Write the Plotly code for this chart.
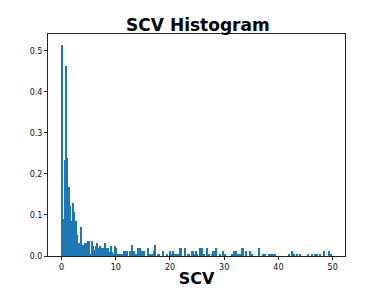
import numpy as np
import plotly.graph_objects as go

bin_start = 0.0
bin_width = 0.249

head = [0.515, 0.09, 0.234, 0.463, 0.24, 0.169, 0.123, 0.085, 0.13, 0.108,
        0.085, 0.051, 0.031, 0.031, 0.07, 0.027, 0.027, 0.031, 0.031, 0.037,
        0.037, 0.006, 0.037, 0.024, 0.015, 0.024, 0.032, 0.019, 0.024, 0.019,
        0.019, 0.019, 0.031, 0.019, 0.019, 0.01, 0.024, 0.01, 0.006, 0.024]
tail_a = [0.019, 0.006, 0.006, 0.006, 0.006, 0.006, 0.013, 0.013, 0.013, 0,
          0.013, 0.006, 0.027, 0.013, 0, 0.006, 0.019, 0.006, 0.019, 0.013,
          0.013, 0.013, 0, 0, 0.019, 0.006, 0.006, 0.006, 0.013, 0.027,
          0, 0.006, 0.006, 0, 0, 0.013, 0, 0, 0.006, 0]
tail_b = [0.013, 0.006, 0.013, 0, 0.006, 0.006, 0.006, 0.019, 0.019, 0,
          0, 0.019, 0, 0.006, 0.006, 0, 0.013, 0.013, 0.006, 0.013,
          0.006, 0, 0.019, 0.006, 0.019, 0.006, 0, 0.019, 0, 0.006,
          0, 0.006, 0.013, 0.013, 0.019, 0, 0, 0.006, 0, 0.013]
tail_c = [0.006, 0.006, 0, 0, 0, 0, 0.006, 0.013, 0, 0.013,
          0.006, 0, 0.006, 0.019, 0.019, 0, 0.013, 0, 0, 0.013,
          0, 0.006, 0, 0, 0, 0, 0.019, 0, 0, 0.006,
          0.006, 0, 0, 0.006, 0.006, 0.006, 0.006, 0, 0.006, 0]
tail_d = [0, 0, 0, 0, 0, 0, 0, 0, 0.006, 0,
          0.013, 0, 0.006, 0, 0.006, 0, 0.006, 0, 0, 0,
          0, 0, 0.006, 0, 0, 0.006, 0, 0.006, 0, 0.006,
          0, 0.006, 0, 0, 0.013, 0, 0, 0, 0.013, 0.006]

density = head + tail_a + tail_b + tail_c + tail_d
n = len(density)
edges = bin_start + bin_width * np.arange(n + 1)
centers = (edges[:-1] + edges[1:]) / 2

x_ticks = [0, 10, 20, 30, 40, 50]
y_ticks = [0.0, 0.1, 0.2, 0.3, 0.4, 0.5]

fig = go.Figure(go.Bar(
    x=centers, y=density, width=bin_width,
    marker=dict(color="#1f77b4", line=dict(width=0)),
))

axis_common = dict(
    showline=True, linecolor="#222", linewidth=1, mirror=True,
    ticks="outside", ticklen=3, tickcolor="#222", showgrid=False, zeroline=False,
    automargin=False,
    tickfont=dict(family="DejaVu Sans", size=8, color="#111"),
)

fig.update_layout(
    width=376, height=280,
    margin=dict(l=40, r=39, t=26, b=32, autoexpand=False),
    paper_bgcolor="white", plot_bgcolor="white",
    bargap=0,
    showlegend=False,
    title=dict(text="<b>SCV Histogram</b>", x=0.505, xanchor="center", y=0.939, yanchor="middle",
               font=dict(family="DejaVu Sans", size=17, color="black")),
    xaxis=dict(range=[-2.49, 52.27], tickvals=x_ticks,
               title=dict(text="<b>SCV</b>", font=dict(family="DejaVu Sans", size=16, color="black"), standoff=5),
               **axis_common),
    yaxis=dict(range=[0, 0.541], tickvals=y_ticks, tickformat=".1f", **axis_common),
)

fig.write_html("out.html")
